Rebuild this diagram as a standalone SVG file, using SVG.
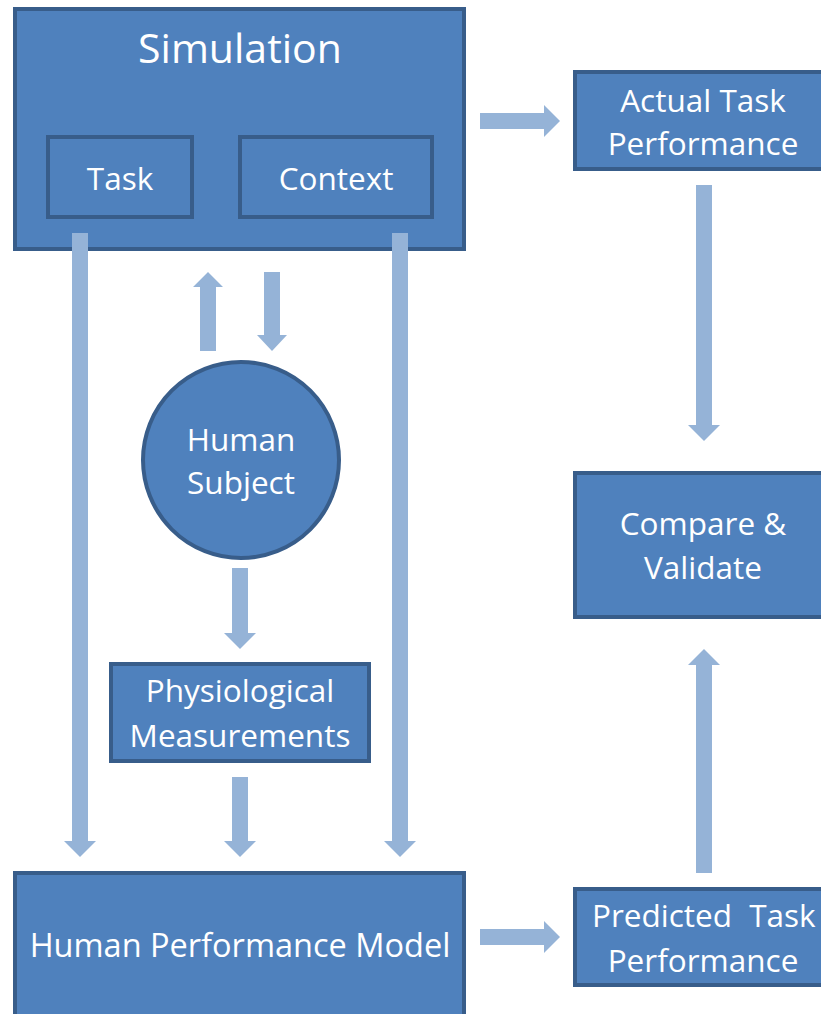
<svg xmlns="http://www.w3.org/2000/svg" width="821" height="1014" viewBox="0 0 821 1014">
<style>
.box{fill:#4F81BD;stroke:#385D8A;stroke-width:4}
.lbl{fill:#FFFFFF;font-family:"Open Sans","Noto Sans",sans-serif;font-size:31.5px;text-anchor:middle}
.big{font-size:41px}
.arr{fill:#95B3D7}
</style>
<rect width="821" height="1014" fill="#FFFFFF"/>
<g id="simulation">
<rect class="box" x="15" y="9" width="449" height="240"/>
<text class="lbl big" x="240" y="63">Simulation</text>
</g>
<g id="task">
<rect class="box" x="48" y="137" width="144" height="80"/>
<text class="lbl" x="120" y="190">Task</text>
</g>
<g id="context">
<rect class="box" x="240" y="137" width="192" height="80"/>
<text class="lbl" x="336" y="190">Context</text>
</g>
<g id="actual">
<rect class="box" x="575" y="72" width="260" height="97"/>
<text class="lbl" x="703" y="112">Actual Task</text>
<text class="lbl" x="703" y="155">Performance</text>
</g>
<g id="compare">
<rect class="box" x="575" y="473" width="260" height="144"/>
<text class="lbl" x="703" y="535">Compare &amp;</text>
<text class="lbl" x="703" y="579">Validate</text>
</g>
<g id="predicted">
<rect class="box" x="575" y="889" width="260" height="96"/>
<text class="lbl" x="592" y="927" style="text-anchor:start" word-spacing="9">Predicted Task</text>
<text class="lbl" x="703" y="972">Performance</text>
</g>
<g id="human-subject">
<circle class="box" cx="241" cy="460" r="98"/>
<text class="lbl" x="241" y="451">Human</text>
<text class="lbl" x="241" y="494">Subject</text>
</g>
<g id="physiological">
<rect class="box" x="111" y="664" width="258" height="97"/>
<text class="lbl" x="240" y="702">Physiological</text>
<text class="lbl" x="240" y="747">Measurements</text>
</g>
<g id="hpm">
<rect class="box" x="15" y="873" width="449" height="160"/>
<text class="lbl" x="240" y="957" style="font-size:32.5px">Human Performance Model</text>
</g>
<g id="connectors">
<polygon class="arr" points="480,113 544,113 544,105 560,121 544,137 544,129 480,129"/>
<polygon class="arr" points="480,929 544,929 544,921 560,937 544,953 544,945 480,945"/>
<polygon class="arr" points="696,185 712,185 712,425 720,425 704,441 688,425 696,425"/>
<polygon class="arr" points="696,873 712,873 712,665 720,665 704,649 688,665 696,665"/>
<polygon class="arr" points="200,351 216,351 216,287 223,287 208,272 193,287 200,287"/>
<polygon class="arr" points="264,272 280,272 280,335 287,335 272,351 257,335 264,335"/>
<polygon class="arr" points="232,568 248,568 248,633 256,633 240,649 224,633 232,633"/>
<polygon class="arr" points="232,777 248,777 248,841 256,841 240,857 224,841 232,841"/>
<polygon class="arr" points="72,233 88,233 88,841 96,841 80,857 64,841 72,841"/>
<polygon class="arr" points="392,233 408,233 408,841 416,841 400,857 384,841 392,841"/>
</g>
</svg>
